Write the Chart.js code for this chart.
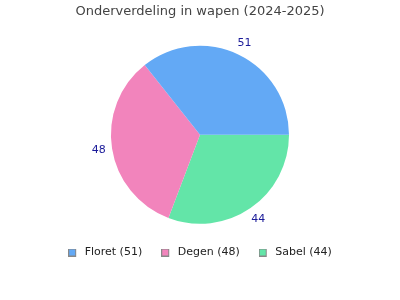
<!DOCTYPE html>
<html>
<head>
<meta charset="utf-8">
<script src="https://cdn.jsdelivr.net/npm/chart.js@4/dist/chart.umd.min.js"></script>
<style>
html,body{margin:0;padding:0;background:#fff;}
#wrap{width:400px;height:300px;}
</style>
</head>
<body>
<div id="wrap"><canvas id="c" width="400" height="300"></canvas></div>
<script>
const categories = ["Floret", "Degen", "Sabel"];
const values = [51, 48, 44];
const colors = ["#63a9f5", "#f284bc", "#63e5a8"];

// drawn counter-clockwise in the reference: reverse for Chart.js (clockwise)
const order = [2, 1, 0];

function legendSwatch(color) {
  const c = document.createElement('canvas');
  c.width = 11; c.height = 8;
  const g = c.getContext('2d');
  g.fillStyle = color;
  g.fillRect(0, 0, 8, 8);
  g.strokeStyle = '#888';
  g.lineWidth = 1;
  g.strokeRect(0.5, 0.5, 7, 7);
  return c;
}

const labelPlugin = {
  id: 'outerLabels',
  afterDatasetsDraw(chart) {
    const ctx = chart.ctx;
    const meta = chart.getDatasetMeta(0);
    ctx.save();
    ctx.font = '11px "DejaVu Sans"';
    ctx.fillStyle = '#1a1a99';
    ctx.textAlign = 'center';
    ctx.textBaseline = 'middle';
    meta.data.forEach((arc, i) => {
      const p = arc.getProps(['x','y','startAngle','endAngle','outerRadius'], true);
      const mid = (p.startAngle + p.endAngle) / 2;
      const r = p.outerRadius * 1.15;
      ctx.fillText(String(chart.data.datasets[0].data[i]), p.x + Math.cos(mid) * r, p.y + Math.sin(mid) * r);
    });
    ctx.restore();
  }
};

new Chart(document.getElementById('c'), {
  type: 'pie',
  data: {
    labels: order.map(i => categories[i]),
    datasets: [{
      data: order.map(i => values[i]),
      backgroundColor: order.map(i => colors[i]),
      borderWidth: 0,
      radius: 89
    }]
  },
  options: {
    responsive: false,
    animation: false,
    rotation: 90,
    layout: { padding: { top: 0, bottom: 32, left: 0, right: 0 } },
    plugins: {
      title: {
        display: true,
        text: 'Onderverdeling in wapen (2024-2025)',
        color: '#444',
        font: { family: 'DejaVu Sans', size: 13, weight: 'normal' },
        padding: { top: 4, bottom: 22 }
      },
      legend: {
        position: 'bottom',
        reverse: true,
        labels: {
          usePointStyle: true,
          pointStyleWidth: 11,
          boxHeight: 8,
          padding: 19,
          color: '#222',
          font: { family: 'DejaVu Sans', size: 11 },
          generateLabels(chart) {
            const ds = chart.data.datasets[0];
            return chart.data.labels.map((l, i) => ({
              text: l + ' (' + ds.data[i] + ')',
              fillStyle: ds.backgroundColor[i],
              strokeStyle: '#888',
              lineWidth: 1,
              pointStyle: legendSwatch(ds.backgroundColor[i]),
              fontColor: '#222',
              index: i,
              hidden: false
            }));
          }
        }
      },
      tooltip: { enabled: false }
    }
  },
  plugins: [labelPlugin]
});
</script>
</body>
</html>
